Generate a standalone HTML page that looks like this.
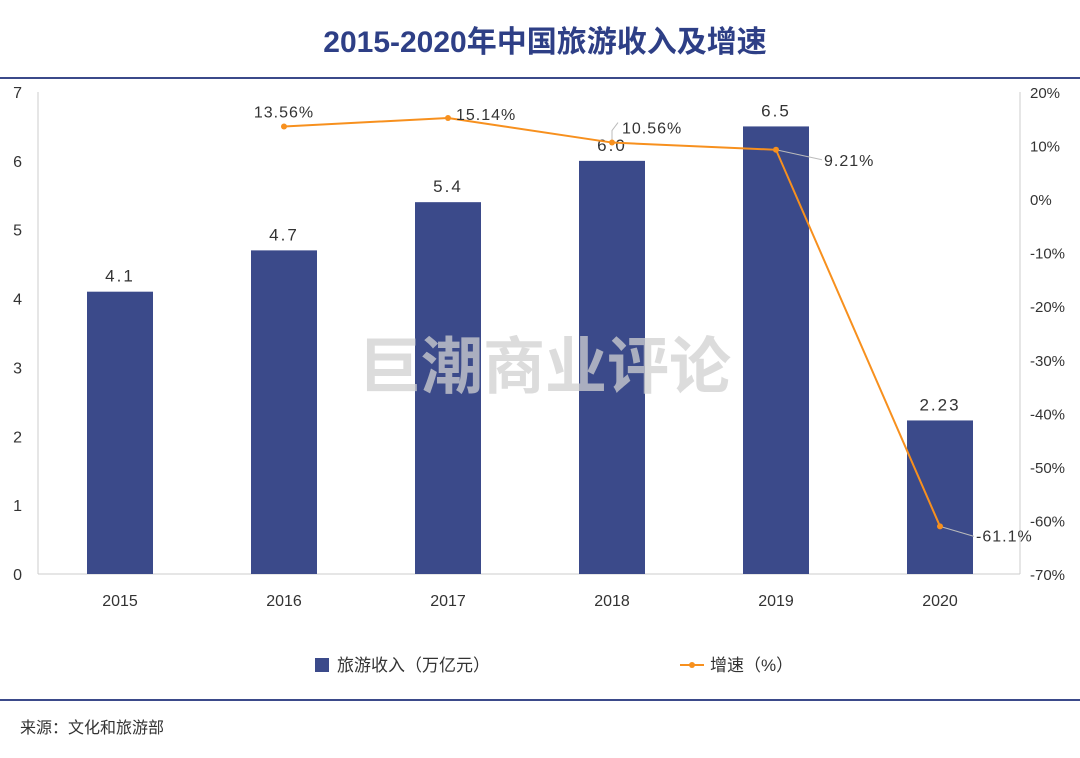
<!DOCTYPE html>
<html><head><meta charset="utf-8"><style>
body{margin:0;background:#fff;width:1080px;height:753px;overflow:hidden;font-family:"Liberation Sans","Noto Sans CJK SC",sans-serif}
</style></head><body>
<svg width="1080" height="753" xmlns="http://www.w3.org/2000/svg" id="svg" font-family="Liberation Sans, Noto Sans CJK SC, sans-serif">
<text x="545" y="52" text-anchor="middle" font-size="30" font-weight="bold" fill="#2e3f86">2015-2020年中国旅游收入及增速</text>
<rect x="0" y="77" width="1080" height="2" fill="#3b4a8a"/>
<line x1="38" y1="92" x2="38" y2="574" stroke="#ccc"/>
<line x1="1020" y1="92" x2="1020" y2="574" stroke="#ccc"/>
<line x1="38" y1="574" x2="1020" y2="574" stroke="#ccc"/>
<g id="g"></g>
<text x="545" y="388" text-anchor="middle" font-size="62" fill="#d0d0d0" fill-opacity="0.75" font-weight="bold">巨潮商业评论</text>
<rect x="315" y="658" width="14" height="14" fill="#3b4a8a"/>
<text x="337" y="671" font-size="17" fill="#333">旅游收入（万亿元）</text>
<line x1="680" y1="665" x2="704" y2="665" stroke="#f7901e" stroke-width="2"/>
<circle cx="692" cy="665" r="3" fill="#f7901e"/>
<text x="710" y="671" font-size="17" fill="#333">增速（%）</text>
<rect x="0" y="699" width="1080" height="2" fill="#3b4a8a"/>
<text x="20" y="733" font-size="16" fill="#333">来源：文化和旅游部</text>
</svg>
<script>
const years=["2015","2016","2017","2018","2019","2020"];
const revenue=[4.1,4.7,5.4,6.0,6.5,2.23];
const revenueLabels=["4.1","4.7","5.4","6.0","6.5","2.23"];
const growth=[null,13.56,15.14,10.56,9.21,-61.1];
const growthLabels=["","13.56%","15.14%","10.56%","9.21%","-61.1%"];
const leftTicks=[0,1,2,3,4,5,6,7];
const rightTicks=[20,10,0,-10,-20,-30,-40,-50,-60,-70];
const NS="http://www.w3.org/2000/svg",g=document.getElementById('g');
const x=i=>120+i*164;
const yL=v=>574-v*(482/7);
const yR=v=>574-(v+70)*(482/90);
function mk(t,a,txt){const e=document.createElementNS(NS,t);for(const k in a)e.setAttribute(k,a[k]);if(txt!=null)e.textContent=txt;g.appendChild(e);return e;}
leftTicks.forEach(v=>{const e=mk('text',{x:22,y:yL(v)+6,'font-size':16,fill:'#333','text-anchor':'end'},String(v));

});
rightTicks.forEach(v=>{const e=mk('text',{x:1030,y:yR(v)+6,'font-size':15,fill:'#333'},v+'%');

});
years.forEach((y,i)=>{
const b=mk('rect',{x:x(i)-33,y:yL(revenue[i]),width:66,height:574-yL(revenue[i]),fill:'#3b4a8a'});


const t=mk('text',{x:x(i),y:yL(revenue[i])-10,'font-size':17,fill:'#333','text-anchor':'middle','letter-spacing':'2'},revenueLabels[i]);


const xl=mk('text',{x:x(i),y:606,'font-size':16,fill:'#333','text-anchor':'middle'},y);


});
// leader lines (relative to points)
const leaders=[null,null,null,[[0,0],[0,-12],[6,-20]],[[0,0],[46,10]],[[0,0],[34,10]]];
leaders.forEach((L,i)=>{if(!L)return;
const pts=L.map(q=>(x(i)+q[0])+','+(yR(growth[i])+q[1])).join(' ');
const e=mk('polyline',{points:pts,fill:'none',stroke:'#bbb','stroke-width':1});

});
let d='';growth.forEach((v,i)=>{if(v==null)return;d+=(d?'L':'M')+x(i)+','+yR(v);});
const p=mk('path',{d:d,fill:'none',stroke:'#f7901e','stroke-width':2});


const off=[null,[0,-15,'middle',0],[0,-4,'start',8],[0,-15,'start',10],[0,10,'start',48],[0,9,'start',36]];
growth.forEach((v,i)=>{if(v==null)return;
const c=mk('circle',{cx:x(i),cy:yR(v),r:3,fill:'#f7901e'});


const o=off[i];
const t=mk('text',{x:x(i)+o[3],y:yR(v)+o[1]+6,'font-size':16,fill:'#333','text-anchor':o[2],'letter-spacing':'1'},growthLabels[i]);


});
</script>
</body></html>
